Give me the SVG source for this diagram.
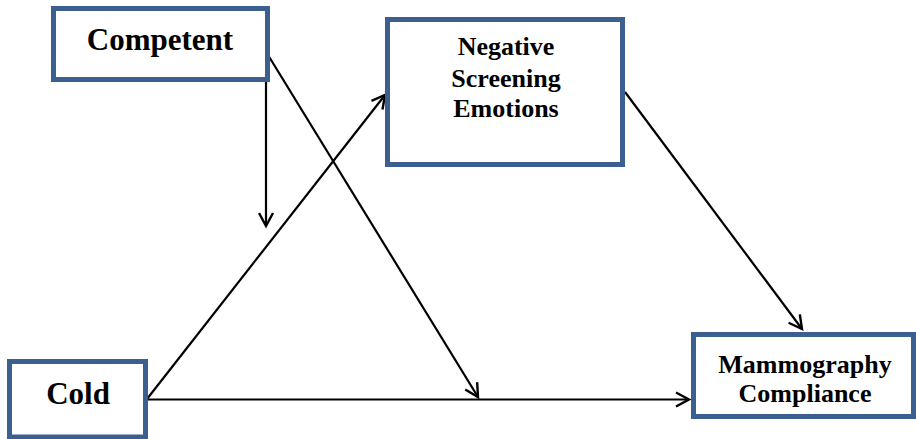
<svg xmlns="http://www.w3.org/2000/svg" width="916" height="439" viewBox="0 0 916 439">
<style>
.box{fill:#fff;stroke:#3b5f8e;stroke-width:5}
.t{font-family:"Liberation Serif","Times New Roman",serif;font-weight:bold;fill:#000;text-anchor:middle}
.big{font-size:31px}
.sm{font-size:26px}
.c{stroke:#000;stroke-width:2.2;fill:none}
</style>
<defs>
<marker id="ah" markerUnits="userSpaceOnUse" markerWidth="20" markerHeight="20" refX="14" refY="8" orient="auto" viewBox="0 0 20 16">
<path d="M1,1 L14,8 L1,15" fill="none" stroke="#000" stroke-width="2.4"/>
</marker>
</defs>
<g id="connectors">
<line class="c" x1="266" y1="80" x2="266" y2="226" marker-end="url(#ah)"/>
<line class="c" x1="268" y1="55" x2="478" y2="397" marker-end="url(#ah)"/>
<line class="c" x1="147" y1="399" x2="385" y2="95" marker-end="url(#ah)"/>
<line class="c" x1="147" y1="399.5" x2="689" y2="399.5" marker-end="url(#ah)"/>
<line class="c" x1="625" y1="92" x2="802" y2="329" marker-end="url(#ah)"/>
</g>
<g id="competent">
<rect class="box" x="53.5" y="8.5" width="214" height="71"/>
<text class="t big" x="160" y="50">Competent</text>
</g>
<g id="negative">
<rect class="box" x="387.5" y="19.5" width="235" height="145"/>
<text class="t sm" x="506" y="55">Negative</text>
<text class="t sm" x="506" y="87">Screening</text>
<text class="t sm" x="506" y="117">Emotions</text>
</g>
<g id="cold">
<rect class="box" x="9.5" y="361.5" width="136" height="75.5"/>
<text class="t big" x="78" y="404">Cold</text>
</g>
<g id="mammography">
<rect class="box" x="693.5" y="334.5" width="220" height="82"/>
<text class="t sm" x="805" y="373">Mammography</text>
<text class="t sm" x="805" y="402">Compliance</text>
</g>
</svg>
